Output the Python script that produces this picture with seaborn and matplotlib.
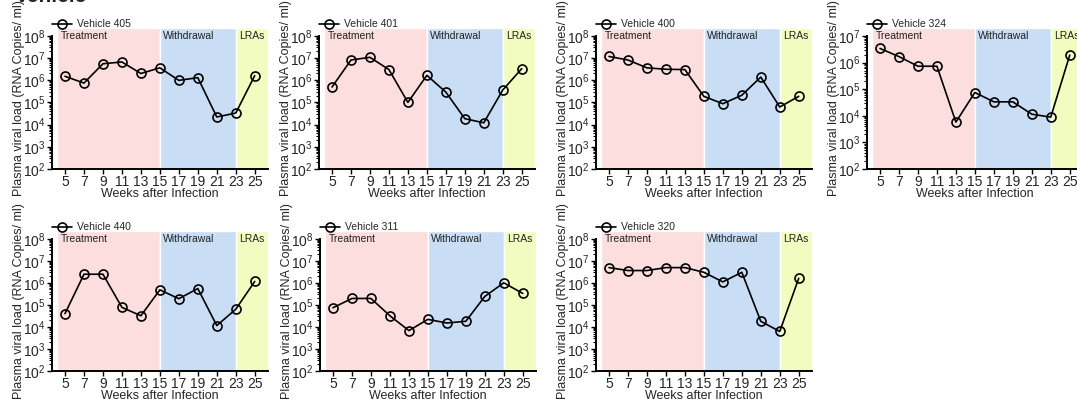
import numpy as np
import pandas as pd
import seaborn as sns
import matplotlib.pyplot as plt
from matplotlib.ticker import FixedLocator, FuncFormatter, NullFormatter

# weeks after infection (x axis)
weeks = [5, 7, 9, 11, 13, 15, 17, 19, 21, 23, 25]

# plasma viral load per animal
vehicle_405 = [1.5e6, 7.4e5, 5.5e6, 6.6e6, 2.0e6, 3.6e6, 9.8e5, 1.3e6, 2.2e4, 3.3e4, 1.6e6]
vehicle_401 = [4.9e5, 8.1e6, 1.07e7, 3.0e6, 1.0e5, 1.65e6, 2.9e5, 1.85e4, 1.2e4, 3.6e5, 3.3e6]
vehicle_400 = [1.17e7, 8.1e6, 3.6e6, 3.1e6, 3.0e6, 1.87e5, 8.7e4, 2.1e5, 1.38e6, 6.2e4, 1.87e5]
vehicle_324 = [3.4e6, 1.68e6, 7.3e5, 7.3e5, 5.8e3, 7.5e4, 3.35e4, 3.35e4, 1.15e4, 8.9e3, 1.9e6]
vehicle_440 = [4.0e4, 2.45e6, 2.45e6, 7.7e4, 3.2e4, 4.8e5, 1.9e5, 5.5e5, 1.15e4, 6.3e4, 1.15e6]
vehicle_311 = [7.4e4, 1.95e5, 1.95e5, 3.2e4, 6.8e3, 2.2e4, 1.5e4, 1.8e4, 2.4e5, 1.0e6, 3.3e5]
vehicle_320 = [4.9e6, 3.6e6, 3.6e6, 4.9e6, 4.9e6, 3.0e6, 1.1e6, 3.0e6, 1.8e4, 6.2e3, 1.6e6]

animals = ["405", "401", "400", "324", "440", "311", "320"]
loads = [vehicle_405, vehicle_401, vehicle_400, vehicle_324,
         vehicle_440, vehicle_311, vehicle_320]
top_decade = [8, 8, 8, 7, 8, 8, 8]

# study phases (weeks)
phase_names = ["Treatment", "Withdrawal", "LRAs"]
phase_start = [4.2, 15, 23]
phase_end = [15, 23, 26.4]
phase_colors = ["#fddede", "#c9ddf5", "#f3fcc0"]

df = pd.concat([pd.DataFrame({"week": weeks, "load": l, "animal": a})
                for a, l in zip(animals, loads)])

sns.set_style("ticks")
plt.rcParams["font.family"] = ["Liberation Sans", "DejaVu Sans"]
plt.rcParams["mathtext.default"] = "regular"

W, H = 1077, 401
fig = plt.figure(figsize=(W / 100, H / 100), dpi=100)

lefts = [52, 319, 596, 867, 52, 320, 596]
tops = [28, 28, 28, 28, 231, 231, 231]
heights = [141, 141, 141, 141, 140, 140, 140]
aw = 216

for i, animal in enumerate(animals):
    ah = heights[i]
    ax = fig.add_axes([lefts[i] / W, 1 - (tops[i] + ah) / H, aw / W, ah / H])
    ax.set_yscale("log")
    top = top_decade[i]

    for name, s, e, c in zip(phase_names, phase_start, phase_end, phase_colors):
        ax.axvspan(s, e, facecolor=c, edgecolor="white", lw=1, zorder=0)
        ax.annotate(name, xy=(s, 1), xycoords=("data", "axes fraction"),
                    xytext=(2.5, -2), textcoords="offset points",
                    ha="left", va="top", fontsize=7.5, color="#222222")

    sns.lineplot(data=df[df["animal"] == animal], x="week", y="load",
                 color="black", marker="o", markersize=6.5,
                 markerfacecolor="none", markeredgecolor="black",
                 markeredgewidth=1.2, lw=1.2, errorbar=None,
                 label="Vehicle " + animal, ax=ax)

    ax.legend(loc="lower left", bbox_to_anchor=(0, 0.99), frameon=False,
              fontsize=7.5, handlelength=1.9, handletextpad=0.5,
              borderpad=0, borderaxespad=0)

    ax.set_xlim(3.63, 26.4)
    ax.set_ylim(1e2, 10 ** (top + (0.3 if top == 7 else 0.35)))
    ax.set_xticks(weeks)
    ax.yaxis.set_major_locator(FixedLocator([10.0 ** d for d in range(2, top + 1)]))
    ax.yaxis.set_major_formatter(FuncFormatter(lambda v, p: r"$10^{%d}$" % round(np.log10(v))))
    ax.yaxis.set_minor_locator(FixedLocator([m * 10.0 ** d for d in range(2, top)
                                             for m in range(2, 10)]))
    ax.yaxis.set_minor_formatter(NullFormatter())

    ax.spines["top"].set_visible(False)
    ax.spines["right"].set_visible(False)
    ax.spines["left"].set_bounds(1e2, 10.0 ** top)
    for sp in ["left", "bottom"]:
        ax.spines[sp].set_linewidth(1.4)
        ax.spines[sp].set_color("black")

    ax.tick_params(axis="both", which="major", labelsize=10, length=3.5,
                   width=1, color="black", pad=1)
    ax.tick_params(axis="y", which="minor", length=2, width=0.8, color="black")
    ax.tick_params(axis="x", which="minor", bottom=False)

    ax.set_xlabel("Weeks after Infection", fontsize=9, labelpad=-1)
    ax.set_ylabel("Plasma viral load (RNA Copies/ ml)", fontsize=9, labelpad=-1)

fig.text(15 / W, 1 - 1.5 / H, "Vehicle", fontsize=15, fontweight="bold",
         va="baseline", ha="left")

fig.savefig("out.png", dpi=100)
